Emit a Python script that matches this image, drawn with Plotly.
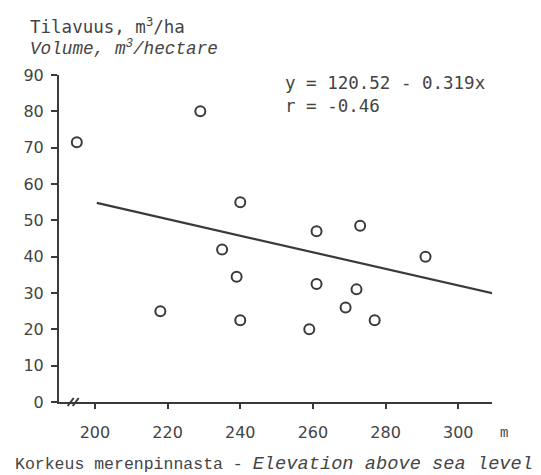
import plotly.graph_objects as go

# Data
elevation_m = [195, 229, 240, 235, 239, 240, 218, 261, 273, 291, 261, 272, 269, 277, 259]
volume_m3ha = [71.5, 80, 55, 42, 34.5, 22.5, 25, 47, 48.5, 40, 32.5, 31, 26, 22.5, 20]
fit_x = [200.5, 309.5]
fit_y = [54.8, 29.9]
x_ticks = [200, 220, 240, 260, 280, 300]
y_ticks = [0, 10, 20, 30, 40, 50, 60, 70, 80, 90]

INK = "#3a3a3a"
TXT = "#444444"
MONO = "DejaVu Sans Mono"

fig = go.Figure()
fig.add_trace(go.Scatter(x=fit_x, y=fit_y, mode="lines",
                         line=dict(color=INK, width=2.2), hoverinfo="skip"))
fig.add_trace(go.Scatter(x=elevation_m, y=volume_m3ha, mode="markers",
                         marker=dict(symbol="circle-open", size=10, color=INK,
                                     line=dict(color=INK, width=2))))

fig.update_layout(
    width=541, height=475,
    margin=dict(l=59, r=49, t=75, b=73),
    plot_bgcolor="white", paper_bgcolor="white",
    showlegend=False,
    font=dict(family="DejaVu Sans", color=TXT, size=16),
    xaxis=dict(range=[190.1, 309.3], tickvals=x_ticks, showgrid=False, zeroline=False,
               showline=True, linecolor=INK, linewidth=2, ticks="outside", ticklen=5,
               tickwidth=2, tickcolor=INK, ticklabelstandoff=10,
               tickfont=dict(family="DejaVu Sans", size=16, color=TXT)),
    yaxis=dict(range=[0, 90], tickvals=y_ticks, showgrid=False, zeroline=False,
               showline=True, linecolor=INK, linewidth=2, ticks="outside", ticklen=6,
               tickwidth=2, tickcolor=INK, ticklabelstandoff=4,
               tickfont=dict(family="DejaVu Sans", size=16, color=TXT)),
)

# axis break mark "//" on the x axis
for off in (0, 5):
    fig.add_shape(type="line", xref="paper", yref="paper",
                  xsizemode="pixel", ysizemode="pixel",
                  xanchor=0.027, yanchor=0,
                  x0=off - 3, x1=off + 3, y0=-4, y1=4,
                  line=dict(color=INK, width=2))

# equation
fig.add_annotation(xref="paper", yref="paper", x=0.518, y=1.012,
                   xanchor="left", yanchor="top", align="left", showarrow=False,
                   text="y = 120.52 - 0.319x<br>r = -0.46",
                   font=dict(family=MONO, size=17.5, color=TXT))

# y-axis title (two lines)
fig.add_annotation(xref="paper", yref="paper", x=-0.072, y=1.15,
                   xanchor="left", yanchor="middle", showarrow=False,
                   text="Tilavuus, m<sup>3</sup>/ha",
                   font=dict(family=MONO, size=17.5, color=TXT))
fig.add_annotation(xref="paper", yref="paper", x=-0.072, y=1.083,
                   xanchor="left", yanchor="middle", showarrow=False,
                   text="<i>Volume, m<sup>3</sup>/hectare</i>",
                   font=dict(family="Liberation Mono", size=17.7, color=TXT))

# x-axis unit and title
fig.add_annotation(xref="paper", yref="paper", x=1.028, y=-0.096,
                   xanchor="center", yanchor="middle", showarrow=False,
                   text="m", font=dict(family="Liberation Mono", size=14, color=TXT))
fig.add_annotation(xref="paper", yref="paper", x=-0.106, y=-0.19,
                   xanchor="left", yanchor="middle", showarrow=False,
                   text="Korkeus merenpinnasta - <span style='font-size:18.7px'><i>Elevation above sea level</i></span>",
                   font=dict(family="Liberation Mono", size=16.5, color=TXT))

fig.write_html("out.html")
